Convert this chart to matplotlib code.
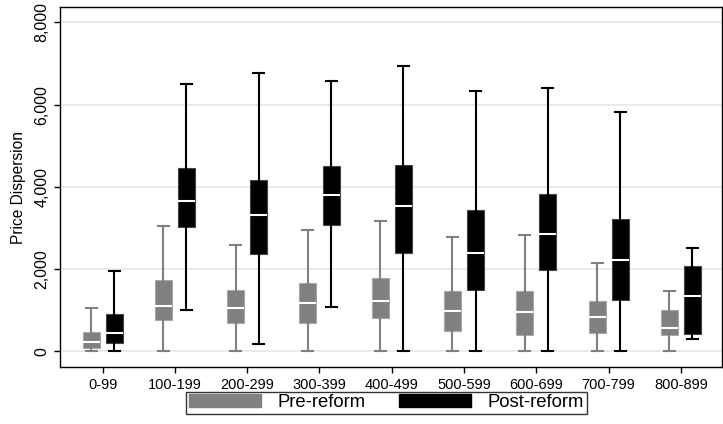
import numpy as np
import matplotlib
matplotlib.use("Agg")
from matplotlib import pyplot as plt
from matplotlib.patches import Patch

plt.rcParams['font.family'] = ['Liberation Sans', 'DejaVu Sans']

groups = ["0-99", "100-199", "200-299", "300-399", "400-499",
          "500-599", "600-699", "700-799", "800-899"]

# whisker low, q1, median, q3, whisker high
pre_low = [0, 0, 0, 0, 0, 0, 0, 0, 0]
pre_q1 = [75, 750, 690, 690, 800, 490, 390, 440, 390]
pre_med = [220, 1100, 1050, 1170, 1220, 975, 950, 830, 560]
pre_q3 = [460, 1730, 1490, 1660, 1780, 1470, 1470, 1220, 1000]
pre_high = [1050, 3050, 2590, 2950, 3170, 2790, 2830, 2150, 1460]

post_low = [0, 1000, 170, 1070, 0, 0, 0, 0, 290]
post_q1 = [195, 3010, 2370, 3070, 2400, 1480, 1980, 1240, 415]
post_med = [440, 3660, 3310, 3800, 3540, 2390, 2860, 2220, 1340]
post_q3 = [900, 4460, 4170, 4500, 4530, 3440, 3830, 3220, 2070]
post_high = [1940, 6500, 6770, 6570, 6930, 6320, 6400, 5810, 2510]


def make_stats(lo, q1, med, q3, hi):
    return [dict(whislo=a, q1=b, med=c, q3=d, whishi=e, fliers=[])
            for a, b, c, d, e in zip(lo, q1, med, q3, hi)]


fig = plt.figure(figsize=(7.23, 4.24), dpi=100)
ax = fig.add_axes([0.083, 0.134, 0.9157, 0.849])

x = np.arange(1, len(groups) + 1)
off = 0.16
w = 0.235

for stats, pos, col, edge in [
        (make_stats(pre_low, pre_q1, pre_med, pre_q3, pre_high), x - off, '#808080', '#a8a8a8'),
        (make_stats(post_low, post_q1, post_med, post_q3, post_high), x + off, 'black', '#444444')]:
    ax.bxp(stats, positions=pos, widths=w, patch_artist=True, showfliers=False,
           boxprops=dict(facecolor=col, edgecolor=edge, linewidth=0.8),
           whiskerprops=dict(color=col, linewidth=1.5),
           capprops=dict(color=col, linewidth=1.5),
           medianprops=dict(color='white', linewidth=1.5),
           capwidths=w * 0.65)

ax.set_xlim(0.41, 9.57)
ax.set_ylim(-390, 8370)
ax.set_yticks([0, 2000, 4000, 6000, 8000])
ax.set_yticklabels(["0", "2,000", "4,000", "6,000", "8,000"], rotation=90,
                   va='center', fontsize=11.5)
ax.set_xticks(x)
ax.set_xticklabels(groups, fontsize=10.5)
ax.tick_params(axis='both', length=4, width=1)
ax.yaxis.grid(True, color='#e6e6e6', linewidth=1.2)
ax.set_axisbelow(True)
ax.set_ylabel("Price Dispersion", fontsize=11.2, labelpad=6)
for s in ax.spines.values():
    s.set_linewidth(1)

handles = [Patch(facecolor='#808080', edgecolor='#808080', label='Pre-reform'),
           Patch(facecolor='black', edgecolor='black', label='Post-reform')]
leg = fig.legend(handles=handles, loc='center', bbox_to_anchor=(0.535, 0.050),
                 ncol=2, fontsize=13.3, frameon=True, fancybox=False,
                 handlelength=3.9, handleheight=0.7, columnspacing=1.8,
                 borderpad=0.15, handletextpad=0.9, borderaxespad=0)
leg.get_frame().set_edgecolor('black')
leg.get_frame().set_linewidth(1)

fig.savefig("out.png", dpi=100)
